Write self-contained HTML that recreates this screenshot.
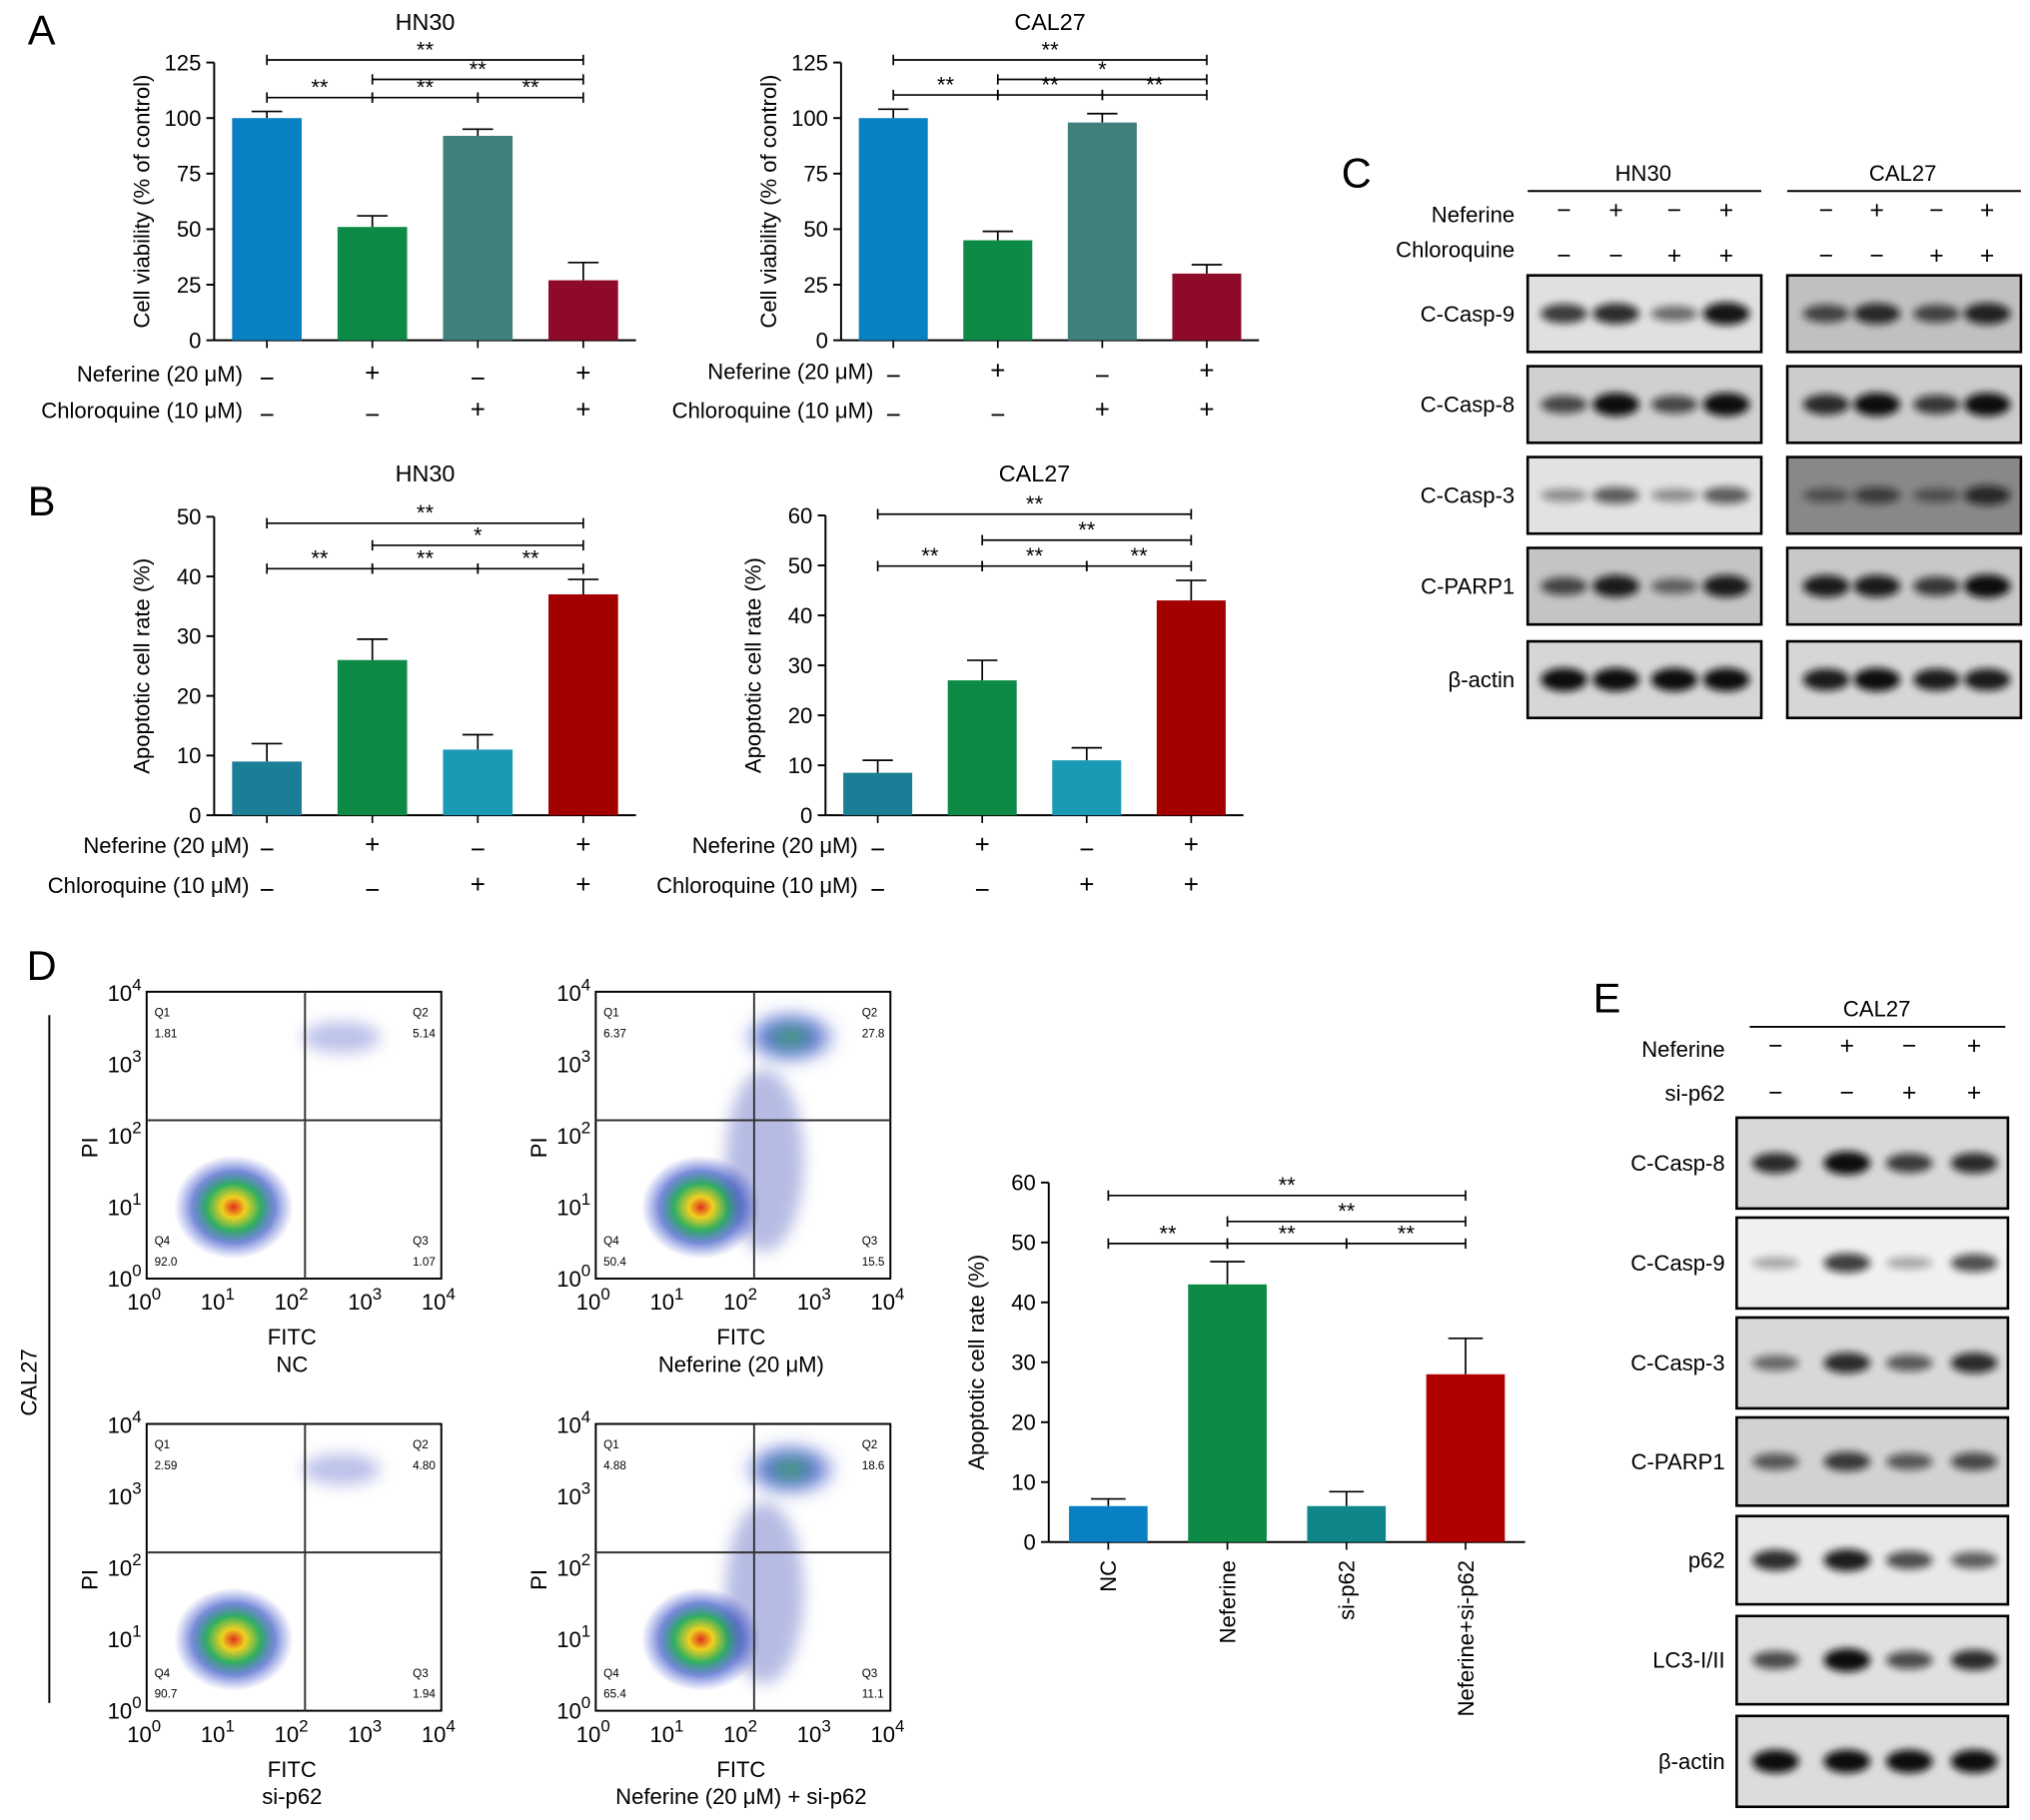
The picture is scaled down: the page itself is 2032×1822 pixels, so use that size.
<!DOCTYPE html>
<html><head><meta charset="utf-8"><style>
html,body{margin:0;padding:0;background:#fff}
svg{display:block;font-family:"Liberation Sans",sans-serif}
</style></head><body>
<svg id="fig" width="2032" height="1822" viewBox="0 0 1564 1402" xmlns="http://www.w3.org/2000/svg">
<defs>
<filter id="blur" x="-50%" y="-100%" width="200%" height="300%"><feGaussianBlur stdDeviation="3"/></filter>
<filter id="blur2" x="-50%" y="-50%" width="200%" height="200%"><feGaussianBlur stdDeviation="6"/></filter>
<radialGradient id="heat"><stop offset="0" stop-color="#e0301a"/><stop offset="0.2" stop-color="#f0d020"/><stop offset="0.45" stop-color="#30b060"/><stop offset="0.7" stop-color="#2040c0" stop-opacity="0.6"/><stop offset="1" stop-color="#4050d0" stop-opacity="0"/></radialGradient>
<radialGradient id="heat2"><stop offset="0" stop-color="#40b040"/><stop offset="0.5" stop-color="#2a50c0" stop-opacity="0.8"/><stop offset="1" stop-color="#4050d0" stop-opacity="0"/></radialGradient>
</defs>
<g id="root"></g>
</svg>
<script>
// ---- data ----
const groups = ["NC","Neferine","si-p62","Neferine+si-p62"];
const aHN30 = [100,51,92,27];
const aHN30err = [3,5,3,8];
const aCAL27 = [100,45,98,30];
const aCAL27err = [4,4,4,4];
const bHN30 = [9,26,11,37];
const bHN30err = [3,3.5,2.5,2.5];
const bCAL27 = [8.5,27,11,43];
const bCAL27err = [2.5,4,2.5,4];
const dVals = [6,43,6,28];
const dErr = [1.2,3.8,2.4,6];
const ticksA = [0,25,50,75,100,125];
const ticksB1 = [0,10,20,30,40,50];
const ticksB2 = [0,10,20,30,40,50,60];
const neferineRow = ["−","+","−","+"];
const chloroRow = ["−","−","+","+"];

const NS="http://www.w3.org/2000/svg";
const root=document.getElementById('root');
function el(tag,attrs,parent,text){const e=document.createElementNS(NS,tag);for(const k in attrs)e.setAttribute(k,attrs[k]);if(text!==undefined)e.textContent=text;(parent||root).appendChild(e);return e;}

function barChart(o){
  const g=el('g',{});
  
  
  const y=v=>o.yb-(v/o.max)*(o.yb-o.yt);
  const band=(o.x1-o.x0)/o.vals.length;
  const xc=i=>o.x0+(i+0.5)*band;
  el('line',{x1:o.x0,y1:o.yt,x2:o.x0,y2:o.yb,stroke:'#000','stroke-width':1.5},g);
  el('line',{x1:o.x0,y1:o.yb,x2:o.x1,y2:o.yb,stroke:'#000','stroke-width':1.5},g);
  o.ticks.forEach(t=>{
    el('line',{x1:o.x0-6,y1:y(t),x2:o.x0,y2:y(t),stroke:'#000','stroke-width':1.5},g);
    const tl=el('text',{x:o.x0-10,y:y(t)+6,'text-anchor':'end','font-size':17},g,t);
    
    
  });
  o.vals.forEach((v,i)=>{
    const w=band*0.66;
    const top=y(v+o.err[i]);
    el('line',{x1:xc(i),y1:top,x2:xc(i),y2:y(v),stroke:'#000','stroke-width':1.3},g);
    el('line',{x1:xc(i)-w*0.22,y1:top,x2:xc(i)+w*0.22,y2:top,stroke:'#000','stroke-width':1.3},g);
    const r=el('rect',{x:xc(i)-w/2,y:y(v),width:w,height:o.yb-y(v),fill:o.colors[i]},g);
    
    
    el('line',{x1:xc(i),y1:o.yb,x2:xc(i),y2:o.yb+6,stroke:'#000','stroke-width':1.3},g);
  });
  const yl=el('text',{transform:`translate(${o.x0-50},${(o.yt+o.yb)/2}) rotate(-90)`,'text-anchor':'middle','font-size':17},g,o.ylabel);
  
  
  if(o.title){const t=el('text',{x:(o.x0+o.x1)/2,y:o.titleY,'text-anchor':'middle','font-size':18},g,o.title);
    }
  o.sig.forEach(s=>{
    const a=xc(s[0]),b=xc(s[1]),yy=s[3];
    el('line',{x1:a,y1:yy,x2:b,y2:yy,stroke:'#000','stroke-width':1.3},g);
    el('line',{x1:a,y1:yy-4,x2:a,y2:yy+4,stroke:'#000','stroke-width':1.3},g);
    el('line',{x1:b,y1:yy-4,x2:b,y2:yy+4,stroke:'#000','stroke-width':1.3},g);
    el('text',{x:(a+b)/2,y:yy-2,'text-anchor':'middle','font-size':17},g,s[2]);
  });
  if(o.rows){
    o.rows.forEach((row,ri)=>{
      const ry=o.rowY[ri];
      const lab=el('text',{x:o.x0+o.labOff,y:ry,'text-anchor':'end','font-size':17},g,o.rowLabels[ri]);
      
      row.forEach((s,i)=>el('text',{x:xc(i),y:ry+(s==='−'?4:0),'text-anchor':'middle','font-size':20},g,s));
    });
  }
  if(o.xcat){
    groups.forEach((c,i)=>{el('text',{transform:`translate(${xc(i)+6},${o.yb+14}) rotate(-90)`,'text-anchor':'end','font-size':17},g,c);});
  }
}
const rl=["Neferine (20 μM)","Chloroquine (10 μM)"];
barChart({name:'chart-a-hn30',x0:165,x1:490,yt:48,yb:262,max:125,ticks:ticksA,vals:aHN30,err:aHN30err,colors:['#0a80c4','#0d8a45','#3f7f7c','#8d0a28'],ylabel:'Cell viability (% of control)',title:'HN30',titleY:23,labOff:22,
 sig:[[0,3,'**',46],[1,3,'**',61],[0,1,'**',75],[1,2,'**',75],[2,3,'**',75]],rows:[neferineRow,chloroRow],rowY:[294,322],rowLabels:rl});
barChart({name:'chart-a-cal27',x0:648,x1:970,yt:48,yb:262,max:125,ticks:ticksA,vals:aCAL27,err:aCAL27err,colors:['#0a80c4','#0d8a45','#3f7f7c','#8d0a28'],ylabel:'Cell viability (% of control)',title:'CAL27',titleY:23,labOff:25,
 sig:[[0,3,'**',46],[1,3,'*',61],[0,1,'**',73],[1,2,'**',73],[2,3,'**',73]],rows:[neferineRow,chloroRow],rowY:[292,322],rowLabels:rl});
barChart({name:'chart-b-hn30',x0:165,x1:490,yt:398,yb:628,max:50,ticks:ticksB1,vals:bHN30,err:bHN30err,colors:['#1a7f96','#0d8a45','#1b9ab5','#a30000'],ylabel:'Apoptotic cell rate (%)',title:'HN30',titleY:371,labOff:27,
 sig:[[0,3,'**',403],[1,3,'*',420],[0,1,'**',438],[1,2,'**',438],[2,3,'**',438]],rows:[neferineRow,chloroRow],rowY:[657,688],rowLabels:rl});
barChart({name:'chart-b-cal27',x0:636,x1:958,yt:397,yb:628,max:60,ticks:ticksB2,vals:bCAL27,err:bCAL27err,colors:['#1a7f96','#0d8a45','#1b9ab5','#a30000'],ylabel:'Apoptotic cell rate (%)',title:'CAL27',titleY:371,labOff:25,
 sig:[[0,3,'**',396],[1,3,'**',416],[0,1,'**',436],[1,2,'**',436],[2,3,'**',436]],rows:[neferineRow,chloroRow],rowY:[657,688],rowLabels:rl});
barChart({name:'chart-d-apoptosis',x0:808,x1:1175,yt:911,yb:1188,max:60,ticks:ticksB2,vals:dVals,err:dErr,colors:['#0a80c4','#0d8a45','#10858a','#b00000'],ylabel:'Apoptotic cell rate (%)',
 sig:[[0,3,'**',921],[1,3,'**',941],[0,1,'**',958],[1,2,'**',958],[2,3,'**',958]],xcat:true});

// panel letters
[['A',32,34],['B',32,397],['C',1045,144],['D',32,755],['E',1238,780]].forEach(p=>{
  const t=el('text',{x:p[1],y:p[2],'text-anchor':'middle','font-size':32},root,p[0]);
  
});

// blots
function blot(name,x0,x1,rows,lanes,bands){
  rows.forEach((r,ri)=>{
    const g=el('g',{});
    
    
    el('rect',{x:x0,y:r[1],width:x1-x0,height:r[2]-r[1],fill:r[3],stroke:'#000','stroke-width':2},g);
    const cy=(r[1]+r[2])/2;
    lanes.forEach((lx,li)=>{
      const k=bands[ri][li];
      el('ellipse',{cx:lx,cy:cy,rx:18,ry:4+5*k,fill:'#111',opacity:0.25+0.75*k,filter:'url(#blur)'},g);
    });
  });
}
const cRows1=[['C-Casp-9',212,271,'#e0e0e0'],['C-Casp-8',282,341,'#d0d0d0'],['C-Casp-3',352,411,'#e2e2e2'],['C-PARP1',422,481,'#c4c4c4'],['β-actin',494,553,'#d6d6d6']];
const cRows2=[['C-Casp-9',212,271,'#c0c0c0'],['C-Casp-8',282,341,'#cccccc'],['C-Casp-3',352,411,'#888888'],['C-PARP1',422,481,'#c8c8c8'],['β-actin',494,553,'#d6d6d6']];
blot('blot-c-hn30',1177,1357,cRows1,[1205,1245,1290,1330],[[0.7,0.8,0.4,0.95],[0.6,1,0.6,1],[0.2,0.5,0.2,0.5],[0.6,0.9,0.4,0.9],[1,1,1,1]]);
blot('blot-c-cal27',1377,1557,cRows2,[1407,1446,1492,1531],[[0.6,0.8,0.6,0.85],[0.8,1,0.7,1],[0.3,0.5,0.3,0.7],[0.9,0.9,0.7,1],[0.9,1,0.9,0.9]]);
cRows1.forEach(r=>el('text',{x:1167,y:(r[1]+r[2])/2+6,'text-anchor':'end','font-size':17},root,r[0]));
[['HN30',1266,1177,1357],['CAL27',1466,1377,1557]].forEach(h=>{el('text',{x:h[1],y:139,'text-anchor':'middle','font-size':17},root,h[0]);el('line',{x1:h[2],y1:147,x2:h[3],y2:147,stroke:'#000','stroke-width':1.5});});
el('text',{x:1167,y:171,'text-anchor':'end','font-size':17},root,'Neferine');
el('text',{x:1167,y:198,'text-anchor':'end','font-size':17},root,'Chloroquine');
[1205,1245,1290,1330,1407,1446,1492,1531].forEach((x,i)=>{
  el('text',{x:x,y:168,'text-anchor':'middle','font-size':19},root,neferineRow[i%4]);
  el('text',{x:x,y:203,'text-anchor':'middle','font-size':19},root,chloroRow[i%4]);
});
const eRows=[['C-Casp-8',861,931,'#d8d8d8'],['C-Casp-9',938,1008,'#f0f0f0'],['C-Casp-3',1015,1085,'#d8d8d8'],['C-PARP1',1092,1160,'#d2d2d2'],['p62',1168,1236,'#e8e8e8'],['LC3-I/II',1245,1313,'#e0e0e0'],['β-actin',1322,1392,'#dcdcdc']];
blot('blot-e-cal27',1338,1547,eRows,[1368,1423,1471,1521],[[0.8,1,0.7,0.8],[0.1,0.7,0.1,0.6],[0.4,0.8,0.5,0.8],[0.5,0.7,0.5,0.6],[0.8,0.9,0.6,0.5],[0.6,1,0.6,0.8],[1,1,1,1]]);
eRows.forEach(r=>el('text',{x:1329,y:(r[1]+r[2])/2+6,'text-anchor':'end','font-size':17},root,r[0]));
el('text',{x:1446,y:783,'text-anchor':'middle','font-size':17},root,'CAL27');
el('line',{x1:1348,y1:791,x2:1545,y2:791,stroke:'#000','stroke-width':1.5});
el('text',{x:1329,y:814,'text-anchor':'end','font-size':17},root,'Neferine');
el('text',{x:1329,y:848,'text-anchor':'end','font-size':17},root,'si-p62');
const eNef=["−","+","−","+"],eSi=["−","−","+","+"];
[1368,1423,1471,1521].forEach((x,i)=>{el('text',{x:x,y:812,'text-anchor':'middle','font-size':19},root,eNef[i]);el('text',{x:x,y:848,'text-anchor':'middle','font-size':19},root,eSi[i]);});

// flow plots
const flows=[[113,764,'NC',['1.81','5.14','92.0','1.07'],[180,930],0],[459,764,'Neferine (20 μM)',['6.37','27.8','50.4','15.5'],[540,930],1],
[113,1097,'si-p62',['2.59','4.80','90.7','1.94'],[180,1263],0],[459,1097,'Neferine (20 μM) + si-p62',['4.88','18.6','65.4','11.1'],[540,1263],1]];
flows.forEach((f,fi)=>{
  const [x,y,lab,q,c,strong]=f;
  const g=el('g',{});
  
  
  el('rect',{x:x,y:y,width:227,height:221,fill:'#fff',stroke:'#000','stroke-width':1.5},g);
  el('ellipse',{cx:c[0],cy:c[1],rx:46,ry:40,fill:'url(#heat)'},g);
  el('ellipse',{cx:x+150,cy:y+35,rx:strong?38:30,ry:strong?22:12,fill:strong?'url(#heat2)':'#4050c0',opacity:strong?1:0.35,filter:'url(#blur2)'},g);
  if(strong)el('ellipse',{cx:x+130,cy:y+130,rx:30,ry:70,fill:'#3040b0',opacity:0.35,filter:'url(#blur2)'},g);
  el('line',{x1:x+122,y1:y,x2:x+122,y2:y+221,stroke:'#333','stroke-width':1.5},g);
  el('line',{x1:x,y1:y+99,x2:x+227,y2:y+99,stroke:'#333','stroke-width':1.5},g);
  [['Q1',x+6,y+19],['Q2',x+205,y+19],['Q4',x+6,y+195],['Q3',x+205,y+195]].forEach(t=>el('text',{x:t[1],y:t[2],'font-size':9},g,t[0]));
  [[q[0],x+6,y+35],[q[1],x+205,y+35],[q[2],x+6,y+211],[q[3],x+205,y+211]].forEach(t=>el('text',{x:t[1],y:t[2],'font-size':9},g,t[0]));
  for(let i=0;i<5;i++){
    const ty=y+221-i*55;
    const t=el('text',{x:x-4,y:ty+6,'text-anchor':'end','font-size':17},g,'10');
    el('tspan',{dy:-8,'font-size':13},t,String(i));
    const tx=x+i*56.7;
    const t2=el('text',{x:tx-2,y:y+245,'text-anchor':'middle','font-size':17},g,'10');
    el('tspan',{dy:-8,'font-size':13},t2,String(i));
  }
  el('text',{transform:`translate(${x-38},${y+120}) rotate(-90)`,'text-anchor':'middle','font-size':17},g,'PI');
  el('text',{x:x+112,y:y+272,'text-anchor':'middle','font-size':17},g,'FITC');
  el('text',{x:x+112,y:y+293,'text-anchor':'middle','font-size':17},g,lab);
});
el('line',{x1:38,y1:782,x2:38,y2:1312,stroke:'#000','stroke-width':1.5});
el('text',{transform:'translate(28,1065) rotate(-90)','text-anchor':'middle','font-size':17},root,'CAL27');
</script>
</body></html>
